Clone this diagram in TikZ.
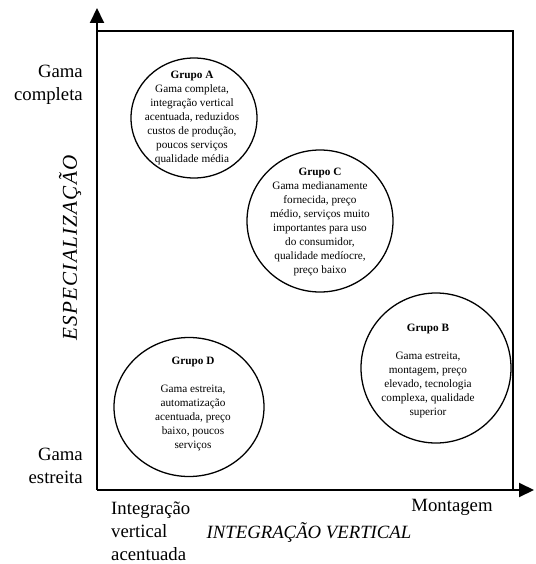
\documentclass[tikz,border=0pt]{standalone}
\usepackage{fontspec}
\setmainfont{Liberation Serif}
\newfontfamily\espacada[LetterSpace=6]{Liberation Serif}
\usetikzlibrary{arrows.meta,shapes.geometric}

\begin{document}
\begin{tikzpicture}[
  eixo/.style={line width=1.7pt,-{Triangle[width=0.42cm,length=0.45cm]}},
  quadro/.style={line width=1.2pt},
  grupo/.style={draw,ellipse,line width=1.1pt,inner sep=0pt},
  grupotexto/.style={align=center,font=\fontsize{9.6}{11.9}\selectfont,inner sep=0pt},
  rotulo/.style={font=\fontsize{16}{19.6}\selectfont,inner sep=0pt}]
\useasboundingbox (0.000,0.000) rectangle (16.050,-16.920);
\coordinate (origem) at (2.910,-14.700);
\coordinate (topoY) at (2.910,-0.240);
\coordinate (topoX) at (16.020,-14.700);
\coordinate (cantoE) at (2.910,-0.930);
\coordinate (cantoD) at (15.390,-0.930);
\coordinate (baseD) at (15.390,-14.700);
\draw[quadro] (cantoE) -- (cantoD) -- (baseD);
\draw[eixo] (origem) -- (topoY);
\draw[eixo] (origem) -- (topoX);
\node[grupo,minimum width=3.780cm,minimum height=3.600cm] (grupoA) at (5.820,-3.540) {};
\node[grupotexto] (textoA) at (5.760,-3.540) {\textbf{Grupo A}\\Gama completa,\\integração vertical\\acentuada, reduzidos\\custos de produção,\\poucos serviços\\qualidade média};
\node[grupo,minimum width=4.380cm,minimum height=4.260cm] (grupoC) at (9.600,-6.630) {};
\node[grupotexto] (textoC) at (9.600,-6.660) {\textbf{Grupo C}\\Gama medianamente\\fornecida, preço\\médio, serviços muito\\importantes para uso\\do consumidor,\\qualidade medíocre,\\preço baixo};
\node[grupo,minimum width=4.500cm,minimum height=4.500cm] (grupoB) at (13.080,-11.040) {};
\node[grupotexto] (textoB) at (12.840,-11.130) {\textbf{Grupo B}\\[11.9pt]Gama estreita,\\montagem, preço\\elevado, tecnologia\\complexa, qualidade\\superior};
\node[grupo,minimum width=4.500cm,minimum height=4.170cm] (grupoD) at (5.670,-12.210) {};
\node[grupotexto] (textoD) at (5.790,-12.120) {\textbf{Grupo D}\\[11.9pt]Gama estreita,\\automatização\\acentuada, preço\\baixo, poucos\\serviços};
\node[rotulo,align=right,anchor=east] (gamaC) at (2.490,-2.550) {Gama\\completa};
\node[rotulo,align=right,anchor=east] (gamaE) at (2.490,-13.980) {Gama\\estreita};
\node[rotulo,align=left,anchor=west] (integr) at (3.330,-15.930) {Integração\\vertical\\acentuada};
\node[rotulo,font=\fontsize{16}{19.6}\selectfont\itshape] (eixoX) at (9.270,-15.960) {INTEGRAÇÃO VERTICAL};
\node[rotulo] (montagem) at (13.560,-15.210) {Montagem};
\node[rotulo,font=\fontsize{18}{19.6}\selectfont\espacada\itshape,rotate=90] (eixoY) at (2.100,-7.440) {ESPECIALIZAÇÃO};
\end{tikzpicture}
\end{document}
